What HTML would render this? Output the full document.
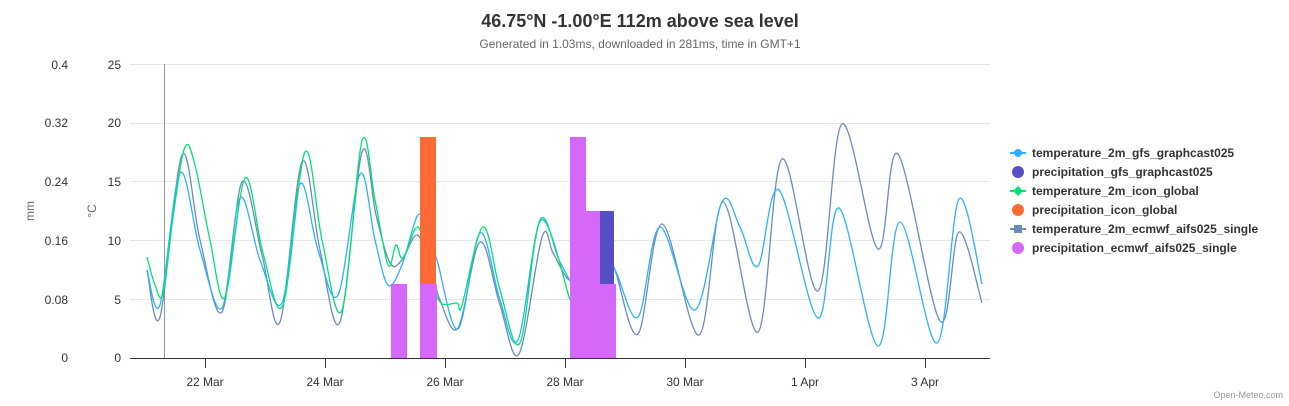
<!DOCTYPE html>
<html><head><meta charset="utf-8"><style>
body{margin:0;background:#fff;font-family:"Liberation Sans",Arial,sans-serif;}
svg{display:block}
</style></head><body>
<svg id="s" width="1289" height="406" xmlns="http://www.w3.org/2000/svg" font-family="Liberation Sans, Arial, sans-serif">
<rect width="1289" height="406" fill="#fff"/>
<text x="640" y="27" text-anchor="middle" font-size="18" font-weight="bold" fill="#333">46.75°N -1.00°E 112m above sea level</text>
<text x="640" y="48" text-anchor="middle" font-size="12" fill="#666">Generated in 1.03ms, downloaded in 281ms, time in GMT+1</text>
<g stroke="#e6e6e6" stroke-width="1">
<line x1="130" x2="990" y1="64.5" y2="64.5"/><line x1="130" x2="990" y1="123.5" y2="123.5"/>
<line x1="130" x2="990" y1="181.5" y2="181.5"/><line x1="130" x2="990" y1="240.5" y2="240.5"/>
<line x1="130" x2="990" y1="299.5" y2="299.5"/>
</g>
<g font-size="12" fill="#333" text-anchor="end">
<text x="68" y="69">0.4</text><text x="68" y="127">0.32</text><text x="68" y="186">0.24</text><text x="68" y="245">0.16</text><text x="68" y="304">0.08</text><text x="68" y="362">0</text>
<text x="121" y="69">25</text><text x="121" y="127">20</text><text x="121" y="186">15</text><text x="121" y="245">10</text><text x="121" y="304">5</text><text x="121" y="362">0</text>
</g>
<text transform="translate(34,211) rotate(-90)" text-anchor="middle" font-size="12" fill="#666">mm</text>
<text transform="translate(96,211) rotate(-90)" text-anchor="middle" font-size="12" fill="#666">°C</text>
<line x1="164.5" x2="164.5" y1="64" y2="358" stroke="#999" stroke-width="1"/>
<g id="lines" fill="none" stroke-width="1.3"></g>
<g>
<rect x="600" y="211" width="14" height="73" fill="#544fc5"/>
<rect x="420" y="137" width="16" height="147" fill="#fe6a35"/>
<rect x="391" y="284" width="16" height="74" fill="#d568fb"/>
<rect x="420" y="284" width="17" height="74" fill="#d568fb"/>
<rect x="570" y="137" width="16" height="221" fill="#d568fb"/>
<rect x="586" y="211" width="14" height="147" fill="#d568fb"/>
<rect x="600" y="284" width="16" height="74" fill="#d568fb"/>
</g>
<line x1="130" x2="990" y1="358.5" y2="358.5" stroke="#333"/>
<g stroke="#333">
<line x1="205.5" x2="205.5" y1="358" y2="368"/><line x1="325.5" x2="325.5" y1="358" y2="368"/>
<line x1="445.5" x2="445.5" y1="358" y2="368"/><line x1="565.5" x2="565.5" y1="358" y2="368"/>
<line x1="685.5" x2="685.5" y1="358" y2="368"/><line x1="805.5" x2="805.5" y1="358" y2="368"/>
<line x1="925.5" x2="925.5" y1="358" y2="368"/>
</g>
<g font-size="12" fill="#333" text-anchor="middle">
<text x="205" y="386">22 Mar</text><text x="325" y="386">24 Mar</text><text x="445" y="386">26 Mar</text><text x="565" y="386">28 Mar</text><text x="685" y="386">30 Mar</text><text x="805" y="386">1 Apr</text><text x="925" y="386">3 Apr</text>
</g>
<g font-size="12" font-weight="bold" fill="#333">
<line x1="1010" x2="1026" y1="153" y2="153" stroke="#2caffe" stroke-width="2"/><circle cx="1018" cy="153" r="4" fill="#2caffe"/>
<text x="1032" y="157">temperature_2m_gfs_graphcast025</text>
<circle cx="1018" cy="172" r="6" fill="#544fc5"/><text x="1032" y="176">precipitation_gfs_graphcast025</text>
<line x1="1010" x2="1026" y1="191" y2="191" stroke="#00e272" stroke-width="2"/><path d="M1018 186 L1023 191 L1018 196 L1013 191Z" fill="#00e272"/>
<text x="1032" y="195">temperature_2m_icon_global</text>
<circle cx="1018" cy="210" r="6" fill="#fe6a35"/><text x="1032" y="214">precipitation_icon_global</text>
<line x1="1010" x2="1026" y1="229" y2="229" stroke="#6b8abc" stroke-width="2"/><rect x="1014" y="225" width="8" height="8" fill="#6b8abc"/>
<text x="1032" y="233">temperature_2m_ecmwf_aifs025_single</text>
<circle cx="1018" cy="248" r="6" fill="#d568fb"/><text x="1032" y="252">precipitation_ecmwf_aifs025_single</text>
</g>
<text x="1283" y="398" text-anchor="end" font-size="9" fill="#999">Open-Meteo.com</text>
</svg>
<script>
var G=[[147,257],[155,285],[163,293],[174,210],[185,147],[195,165],[210,240],[225,297],[245,178],[263,253],[283,305],[305,152],[322,240],[342,310],[362,141],[375,200],[388,265],[396,245],[403,258],[418,227],[430,270],[440,302],[457,303],[462,305],[483,227],[500,290],[520,343],[541,220],[570,300]];
var B=[[147,270],[160,305],[180,173],[200,250],[222,308],[240,198],[260,260],[282,303],[300,184],[318,250],[338,295],[360,174],[375,240],[388,285],[402,265],[418,215],[428,235],[437,260],[458,329],[480,233],[500,300],[518,340],[540,220],[560,262],[580,290],[600,255],[615,270],[638,317],[660,227],[695,310],[722,202],[740,227],[758,266],[779,190],[818,318],[839,208],[878,346],[900,222],[937,343],[959,199],[982,284]];
var E=[[147,270],[160,317],[182,155],[200,240],[222,312],[242,182],[262,255],[280,322],[302,162],[320,250],[340,322],[362,152],[376,215],[390,263],[402,260],[417,235],[430,265],[440,300],[458,328],[480,242],[500,305],[519,354],[542,237],[553,253],[568,279],[580,275],[602,240],[615,270],[638,334],[662,224],[699,335],[723,202],[758,332],[782,159],[818,291],[842,124],[878,249],[898,154],[940,321],[959,232],[982,303]];
function path(p){var d="M"+p[0][0]+" "+p[0][1];for(var i=0;i<p.length-1;i++){var a=p[i-1]||p[i],b=p[i],c=p[i+1],e=p[i+2]||c;
d+=" C"+(b[0]+(c[0]-a[0])/6)+" "+(b[1]+(c[1]-a[1])/6)+" "+(c[0]-(e[0]-b[0])/6)+" "+(c[1]-(e[1]-b[1])/6)+" "+c[0]+" "+c[1];}return d;}
var g=document.getElementById("lines");
[[E,"#6b8abc"],[B,"#2caffe"],[G,"#00e272"]].forEach(function(s){var el=document.createElementNS("http://www.w3.org/2000/svg","path");el.setAttribute("d",path(s[0]));el.setAttribute("stroke",s[1]);g.appendChild(el);});
</script>
</body></html>
